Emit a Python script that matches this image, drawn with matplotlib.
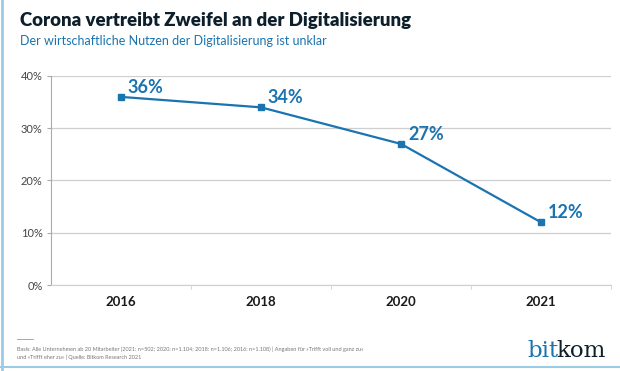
import matplotlib.pyplot as plt
from matplotlib.lines import Line2D

years = ['2016', '2018', '2020', '2021']
values = [36, 34, 27, 12]
yticks = [0, 10, 20, 30, 40]

blue = '#1a74b0'
dark = '#0d1f2b'
grid_col = '#cfcfcf'

plt.rcParams['font.family'] = ['Lato', 'DejaVu Sans']

fig = plt.figure(figsize=(6.2, 3.71), dpi=100)
ax = fig.add_axes([51 / 620, 1 - 285 / 371, 560 / 620, 209 / 371])

x = list(range(len(years)))
ax.plot(x, values, color=blue, lw=1.6, marker='s', ms=5, zorder=3)
for xi, v in zip(x, values):
    ax.annotate(f'{v}%', (xi, v), xytext=(5, 1), textcoords='offset points',
                color=blue, fontsize=13, fontweight='bold', ha='left', va='bottom')

ax.set_xlim(-0.5, len(years) - 0.5)
ax.set_ylim(0, 40)
ax.set_yticks(yticks)
ax.set_yticklabels([f'{t}%' for t in yticks], fontsize=8, color='#444444')
ax.set_xticks(x)
ax.set_xticklabels(years, fontsize=9.5, fontweight='bold', color='#1a1a1a')
ax.set_xticks([i + 0.5 for i in x], minor=True)
ax.tick_params(axis='x', which='major', length=0, pad=8)
ax.tick_params(axis='x', which='minor', length=3, color=grid_col)
ax.tick_params(axis='y', length=3, color='#aaaaaa', pad=3)
ax.yaxis.grid(True, color=grid_col, lw=0.9)
ax.set_axisbelow(True)
for s in ['top', 'right']:
    ax.spines[s].set_visible(False)
ax.spines['left'].set_color('#aaaaaa')
ax.spines['bottom'].set_color(grid_col)

fig.text(20 / 620, 1 - 26 / 371, 'Corona vertreibt Zweifel an der Digitalisierung',
         fontsize=13.4, fontweight='heavy', color=dark)
fig.text(20 / 620, 1 - 45 / 371, 'Der wirtschaftliche Nutzen der Digitalisierung ist unklar',
         fontsize=9, color=blue)

fig.add_artist(Line2D([17 / 620, 33 / 620], [1 - 339 / 371] * 2, color='#999999', lw=0.6))
fig.text(17 / 620, 1 - 351 / 371,
         'Basis: Alle Unternehmen ab 20 Mitarbeiter (2021: n=502; 2020: n=1.104; 2018: n=1.106; 2016: n=1.108) | Angaben für »Trifft voll und ganz zu«',
         fontsize=4.0, color='#777777')
fig.text(17 / 620, 1 - 359 / 371, 'und »Trifft eher zu« | Quelle: Bitkom Research 2021',
         fontsize=4.0, color='#777777')

fig.text(527 / 620, 1 - 357 / 371, 'bit', fontsize=16.5, color=blue, family='DejaVu Serif')
fig.text(556 / 620, 1 - 357 / 371, 'kom', fontsize=16.5, color=dark, family='DejaVu Serif')

fig.add_artist(Line2D([1.5 / 620] * 2, [0, 1], color='#9ccbe6', lw=2))
fig.add_artist(Line2D([0, 1], [1 - 367 / 371] * 2, color='#9ccbe6', lw=1.5))

fig.savefig('out.png', dpi=100)
